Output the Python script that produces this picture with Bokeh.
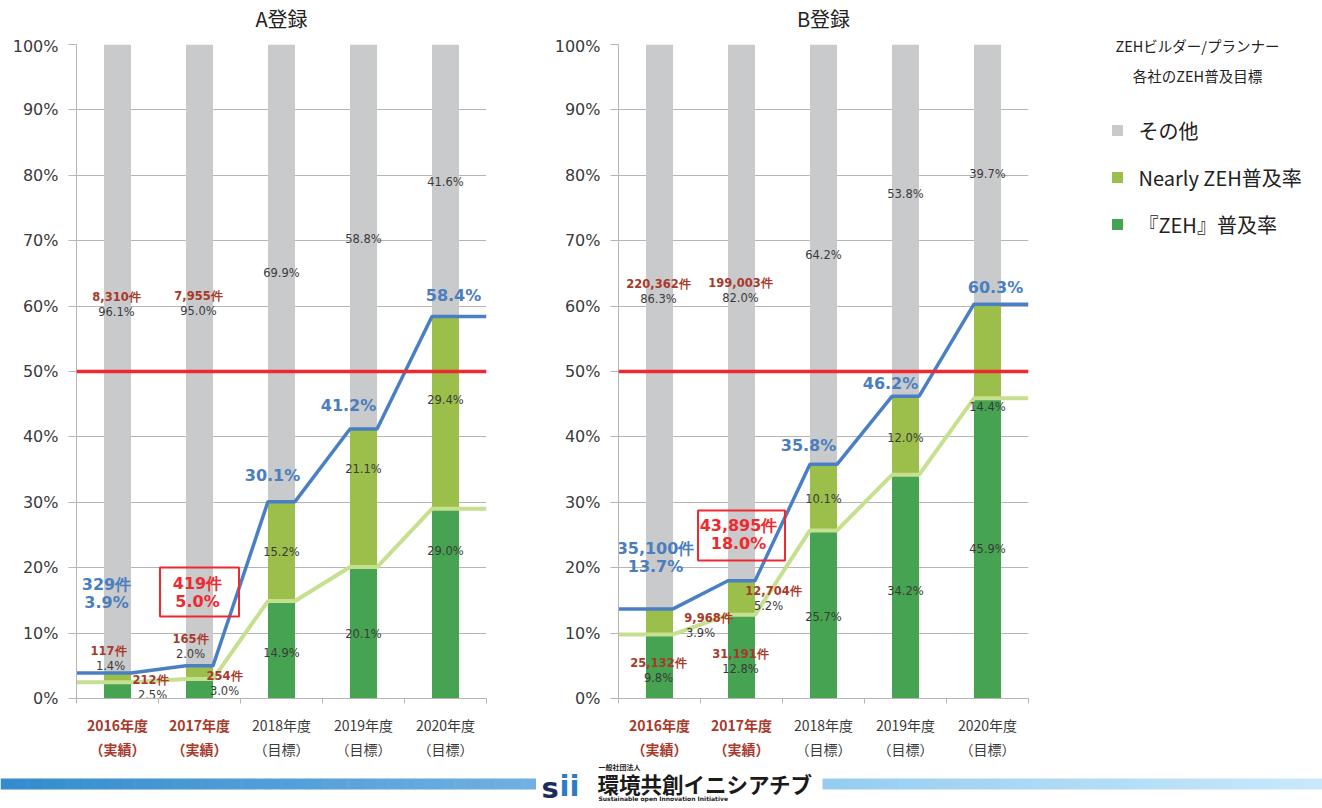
from bokeh.plotting import figure
from bokeh.models import (Range1d, FixedTicker, PrintfTickFormatter, Span, ColumnDataSource)
from bokeh.layouts import row, column
from bokeh.embed import file_html
from bokeh.resources import INLINE
from bokeh.core.properties import value

# ---------------- data ----------------
years = ["2016年度", "2017年度", "2018年度", "2019年度", "2020年度"]
year_kind = ["（実績）", "（実績）", "（目標）", "（目標）", "（目標）"]
is_actual = [True, True, False, False, False]

zeh_A = [2.5, 3.0, 14.9, 20.1, 29.0]
nearly_A = [1.4, 2.0, 15.2, 21.1, 29.4]
other_A = [96.1, 95.0, 69.9, 58.8, 41.6]
total_A = [3.9, 5.0, 30.1, 41.2, 58.4]
zeh_cnt_A = [212, 254, None, None, None]
nearly_cnt_A = [117, 165, None, None, None]
other_cnt_A = [8310, 7955, None, None, None]
total_cnt_A = [329, 419, None, None, None]

zeh_B = [9.8, 12.8, 25.7, 34.2, 45.9]
nearly_B = [3.9, 5.2, 10.1, 12.0, 14.4]
other_B = [86.3, 82.0, 64.2, 53.8, 39.7]
total_B = [13.7, 18.0, 35.8, 46.2, 60.3]
zeh_cnt_B = [25132, 31191, None, None, None]
nearly_cnt_B = [9968, 12704, None, None, None]
other_cnt_B = [220362, 199003, None, None, None]
total_cnt_B = [35100, 43895, None, None, None]

series_names = ["その他", "Nearly ZEH普及率", "『ZEH』普及率"]
legend_title = ["ZEHビルダー/プランナー", "各社のZEH普及目標"]
titles = ["A登録", "B登録"]
target_pct = 50
highlight_idx = 1  # boxed total label

# ---------------- style ----------------
C_OTHER = "#c9cacc"
C_NEARLY = "#9bbf4a"
C_ZEH = "#46a351"
C_TOTAL_LINE = "#4a7fc4"
C_ZEH_LINE = "#c6e08f"
C_TARGET = "#ee2a30"
C_GRID = "#b5b5b5"
C_TXT = "#3a3a3a"
C_CNT = "#a8392b"
C_BLUE_TXT = "#4a7ebd"
NUM_FONT = "DejaVu Sans"
JP_FONT = "Noto Sans CJK JP"
BAR_W = 0.33
FRAME_H = 654
TITLE_H = 36
MAIN_TOP, MAIN_BOT = 8, 12
MAIN_H = MAIN_TOP + FRAME_H + MAIN_BOT
STRIP_H = 50
PX = 100.0 / FRAME_H  # percent per pixel

# label offsets (dx, dy in px) relative to segment centres / totals
OFF_A = {
    "other": [(-1, -47), (-1, -44), (0, 0), (0, 2), (0, 1)],
    "nearly": [(-7, -12), (-9, -18), (0, 1), (0, -29), (0, -13)],
    "zeh": [(35, 5), (25, 2), (0, 3), (0, 1), (0, -53)],
    "total": [(-11, -70), (-2, -64), (-9, -26), (-15, -24), (8, -21)],
}
CNT_DX_A = {"other": [0, 0], "nearly": [-2, 0], "zeh": [-2, 0]}
BOX_A = (-73.8, 79, 49)
OFF_B = {
    "other": [(-1, -28), (-1, -15), (0, 1), (0, -26), (0, 0)],
    "nearly": [(41, 11), (27, 8), (0, 2), (0, 2), (0, 56)],
    "zeh": [(-1, 12), (-1, 12), (0, 3), (0, 4), (0, 1)],
    "total": [(-4, -42), (-3, -37), (-15, -19), (-15, -13), (8, -17)],
}
CNT_DX_B = {"other": [0, 0], "nearly": [8, 5], "zeh": [0, 0]}
BOX_B = (-45.3, 87, 50)


def stepped(vals):
    h = BAR_W / 2
    xs, ys = [0.0], [vals[0]]
    for i, v in enumerate(vals):
        if i > 0:
            xs.append(i + 0.5 - h); ys.append(v)
        if i < len(vals) - 1:
            xs.append(i + 0.5 + h); ys.append(v)
    xs.append(float(len(vals))); ys.append(vals[-1])
    return xs, ys


def bare(p):
    p.axis.visible = False
    p.grid.visible = False
    p.outline_line_color = None
    p.background_fill_color = "white"
    p.border_fill_color = "white"


def build(title, zeh, nearly, other, total, cz, cn, co, ct, off, cdx, box,
          width, mbl, mbr):
    n = len(zeh)
    xr = Range1d(0, n)

    # title strip
    t = figure(width=width, height=TITLE_H, x_range=xr, y_range=Range1d(0, TITLE_H),
               output_backend="svg", toolbar_location=None, min_border_left=mbl,
               min_border_right=mbr, min_border_top=0, min_border_bottom=0)
    bare(t)
    t.text(x=[n / 2], y=[TITLE_H - 18], text=[title], text_align="center",
           text_baseline="middle", text_font=value(JP_FONT), text_font_size="20px",
           text_color="#222222")

    p = figure(width=width, height=MAIN_H, x_range=xr, y_range=Range1d(0, 100),
               output_backend="svg", toolbar_location=None,
               min_border_left=mbl, min_border_right=mbr, min_border_top=MAIN_TOP,
               min_border_bottom=MAIN_BOT)
    p.outline_line_color = None
    p.background_fill_color = "white"
    p.border_fill_color = "white"

    ticks = list(range(0, 101, 10))
    p.yaxis.ticker = FixedTicker(ticks=ticks)
    p.yaxis.formatter = PrintfTickFormatter(format="%d%%")
    p.yaxis.major_label_text_font = NUM_FONT
    p.yaxis.major_label_text_font_size = "16px"
    p.yaxis.major_label_text_color = C_TXT
    p.yaxis.major_tick_out = 8
    p.yaxis.major_tick_in = 0
    p.yaxis.minor_tick_out = 0
    p.yaxis.minor_tick_in = 0
    p.yaxis.major_label_standoff = 10
    p.yaxis.axis_line_color = C_GRID
    p.yaxis.major_tick_line_color = C_GRID
    p.ygrid.ticker = FixedTicker(ticks=ticks)
    p.ygrid.grid_line_color = C_GRID
    p.xgrid.visible = False

    # x axis: only the small ticks at category boundaries
    p.xaxis.ticker = FixedTicker(ticks=list(range(0, n + 1)))
    p.xaxis.major_label_text_font_size = "0px"
    p.xaxis.major_label_text_color = None
    p.xaxis.major_label_standoff = 0
    p.xaxis.major_tick_out = 5
    p.xaxis.major_tick_in = 0
    p.xaxis.minor_tick_out = 0
    p.xaxis.minor_tick_in = 0
    p.xaxis.axis_line_color = C_GRID
    p.xaxis.major_tick_line_color = C_GRID

    xs = [i + 0.5 for i in range(n)]
    b1 = list(zeh)
    b2 = [z + nn for z, nn in zip(zeh, nearly)]
    b3 = [a + o for a, o in zip(b2, other)]
    src = ColumnDataSource(dict(x=xs, z0=[0] * n, z1=b1, n1=b2, o1=b3))
    p.vbar(x="x", bottom="z0", top="z1", width=BAR_W, source=src, fill_color=C_ZEH, line_color=None)
    p.vbar(x="x", bottom="z1", top="n1", width=BAR_W, source=src, fill_color=C_NEARLY, line_color=None)
    p.vbar(x="x", bottom="n1", top="o1", width=BAR_W, source=src, fill_color=C_OTHER, line_color=None)

    p.add_layout(Span(location=target_pct, dimension="width", line_color=C_TARGET, line_width=3.5))

    lx, ly = stepped(zeh)
    p.line(lx, ly, line_color=C_ZEH_LINE, line_width=4)
    lx, ly = stepped(total)
    p.line(lx, ly, line_color=C_TOTAL_LINE, line_width=3.5)

    # segment labels
    anchors = {
        "other": [tt + o / 2 for tt, o in zip(total, other)],
        "nearly": [z + nn / 2 for z, nn in zip(zeh, nearly)],
        "zeh": [z / 2 for z in zeh],
    }
    vals = {"other": other, "nearly": nearly, "zeh": zeh}
    cnts = {"other": co, "nearly": cn, "zeh": cz}
    pct = dict(x=[], y=[], t=[], dx=[], dy=[])
    cnt = dict(x=[], y=[], t=[], dx=[], dy=[])
    for k in ("other", "nearly", "zeh"):
        for i in range(n):
            dx, dy = off[k][i]
            pct["x"].append(xs[i]); pct["y"].append(anchors[k][i])
            pct["t"].append(f"{vals[k][i]:.1f}%"); pct["dx"].append(dx); pct["dy"].append(dy)
            if cnts[k][i] is not None:
                cnt["x"].append(xs[i]); cnt["y"].append(anchors[k][i])
                cnt["t"].append(f"{cnts[k][i]:,}件")
                cnt["dx"].append(dx + cdx[k][i]); cnt["dy"].append(dy - 15)
    p.text(x="x", y="y", text="t", x_offset="dx", y_offset="dy", source=ColumnDataSource(pct),
           text_align="center", text_baseline="middle", text_font=value(NUM_FONT),
           text_font_size="11.5px", text_color=C_TXT)
    p.text(x="x", y="y", text="t", x_offset="dx", y_offset="dy", source=ColumnDataSource(cnt),
           text_align="center", text_baseline="middle", text_font=value(NUM_FONT),
           text_font_size="11.5px", text_font_style="bold", text_color=C_CNT)

    # total labels
    tot = dict(x=[], y=[], t=[], dx=[], dy=[], c=[])
    for i in range(n):
        dx, dy = off["total"][i]
        col = C_TARGET if i == highlight_idx else C_BLUE_TXT
        tot["x"].append(xs[i]); tot["y"].append(total[i]); tot["t"].append(f"{total[i]:.1f}%")
        tot["dx"].append(dx); tot["dy"].append(dy); tot["c"].append(col)
        if ct[i] is not None:
            tot["x"].append(xs[i]); tot["y"].append(total[i]); tot["t"].append(f"{ct[i]:,}件")
            tot["dx"].append(dx); tot["dy"].append(dy - 18); tot["c"].append(col)
    p.text(x="x", y="y", text="t", x_offset="dx", y_offset="dy", source=ColumnDataSource(tot),
           text_align="center", text_baseline="middle", text_font=value(NUM_FONT),
           text_font_size="16px", text_font_style="bold", text_color="c")

    bdy, bw, bh = box
    p.rect(x=[xs[highlight_idx]], y=[total[highlight_idx] - bdy * PX], width=bw, height=bh,
           width_units="screen", height_units="screen", fill_color=None,
           line_color=C_TARGET, line_width=2)

    # category strip below the axis (shares the x range)
    s = figure(width=width, height=STRIP_H, x_range=xr, y_range=Range1d(0, STRIP_H),
               output_backend="svg", toolbar_location=None, min_border_left=mbl,
               min_border_right=mbr, min_border_top=0, min_border_bottom=0)
    bare(s)
    lab = dict(x=[], y=[], t=[], c=[], st=[])
    for i in range(n):
        for txt, yy in ((years[i], STRIP_H - 14), (year_kind[i], STRIP_H - 38)):
            lab["x"].append(xs[i]); lab["y"].append(yy); lab["t"].append(txt)
            lab["c"].append(C_CNT if is_actual[i] else C_TXT)
            lab["st"].append("bold" if is_actual[i] else "normal")
    s.text(x="x", y="y", text="t", source=ColumnDataSource(lab), text_align="center",
           text_baseline="middle", text_font=value(JP_FONT), text_font_size="14px",
           text_font_style="st", text_color="c")
    return column(t, p, s)


cA = build(titles[0], zeh_A, nearly_A, other_A, total_A, zeh_cnt_A, nearly_cnt_A,
           other_cnt_A, total_cnt_A, OFF_A, CNT_DX_A, BOX_A, 548, 76, 62)
cB = build(titles[1], zeh_B, nearly_B, other_B, total_B, zeh_cnt_B, nearly_cnt_B,
           other_cnt_B, total_cnt_B, OFF_B, CNT_DX_B, BOX_B, 492, 70, 12)

# ---------------- legend panel ----------------
LW, LH = 282, TITLE_H + MAIN_H + STRIP_H
pL = figure(width=LW, height=LH, x_range=Range1d(0, LW), y_range=Range1d(0, LH),
            output_backend="svg", toolbar_location=None, min_border=0)
bare(pL)
LEG_Y0, LEG_STEP = LH - 130, 47
leg_src = ColumnDataSource(dict(
    y=[LEG_Y0 - i * LEG_STEP for i in range(len(series_names))],
    c=[C_OTHER, C_NEARLY, C_ZEH], t=series_names))
pL.scatter(x=77, y="y", marker="square", size=11, fill_color="c", line_color=None, source=leg_src)
pL.text(x=98, y="y", text="t", source=leg_src, text_baseline="middle",
        text_font=value(JP_FONT), text_font_size="20px", text_color="#222222")
pL.text(x=157, y=[LH - 45, LH - 75], text=legend_title, text_align="center",
        text_baseline="middle", text_font=value(JP_FONT), text_font_size="14.5px",
        text_color="#222222")

# ---------------- footer ----------------
FW, FH = 1322, 48
pF = figure(width=FW, height=FH, x_range=Range1d(0, FW), y_range=Range1d(0, FH),
            output_backend="svg", toolbar_location=None, min_border=0)
bare(pF)


def grad(x0, x1, c0, c1, steps=40):
    w = (x1 - x0) / steps
    l, r, cols = [], [], []
    for k in range(steps):
        f = k / (steps - 1)
        rgb = tuple(int(round(a + (b - a) * f)) for a, b in zip(c0, c1))
        l.append(x0 + k * w); r.append(x0 + (k + 1) * w + 0.5)
        cols.append("#%02x%02x%02x" % rgb)
    pF.quad(left=l, right=r, bottom=19, top=30, fill_color=cols, line_color=None)


grad(0, 535, (52, 140, 206), (112, 176, 226))
grad(822, 1322, (150, 205, 240), (200, 232, 250))
pF.text(x=[541], y=[21], text=["s"], text_font=value(NUM_FONT), text_font_size="29px",
        text_font_style="bold", text_color="#1d2c5c", text_baseline="middle")
pF.text(x=[559], y=[23], text=["ii"], text_font=value(NUM_FONT), text_font_size="29px",
        text_font_style="bold", text_color="#2a7cc4", text_baseline="middle")
pF.text(x=[598], y=[42], text=["一般社団法人"], text_font=value(JP_FONT), text_font_size="7px",
        text_font_style="bold", text_color="#222222", text_baseline="middle")
pF.text(x=[597], y=[25], text=["環境共創イニシアチブ"], text_font=value(JP_FONT),
        text_font_size="21.5px", text_font_style="bold", text_color="#1a1a1a",
        text_baseline="middle")
pF.text(x=[598], y=[10], text=["Sustainable open Innovation Initiative"],
        text_font=value(NUM_FONT), text_font_size="6px", text_font_style="bold",
        text_color="#222222", text_baseline="middle")

layout = column(row(cA, cB, pL), pF)
open("out.html", "w").write(file_html(layout, INLINE))
